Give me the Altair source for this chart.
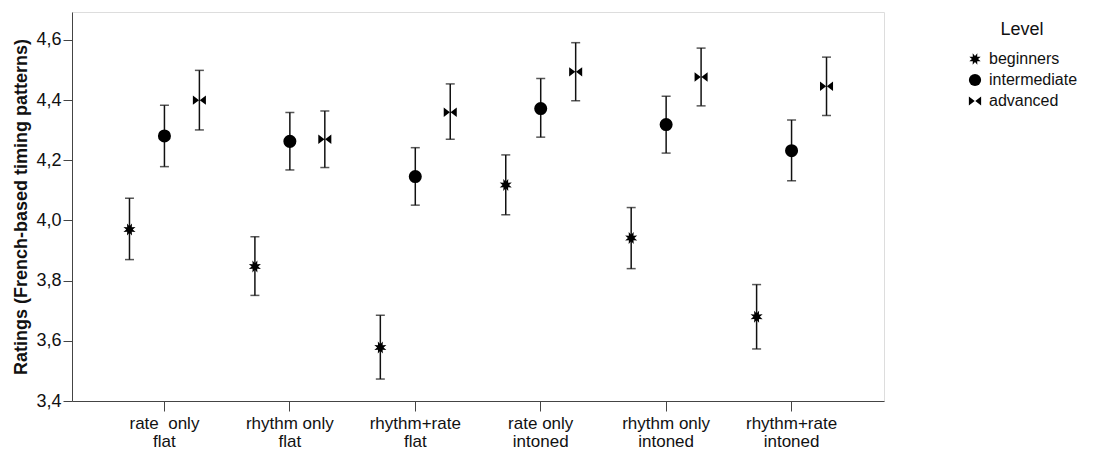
import math
import altair as alt
import pandas as pd

conditions = ["rate \u00a0only|flat", "rhythm only|flat", "rhythm+rate|flat",
              "rate only|intoned", "rhythm only|intoned", "rhythm+rate|intoned"]
levels = ["beginners", "intermediate", "advanced"]

mean_beginners = [3.970, 3.847, 3.578, 4.118, 3.942, 3.680]
mean_intermediate = [4.281, 4.263, 4.146, 4.372, 4.319, 4.232]
mean_advanced = [4.400, 4.270, 4.360, 4.494, 4.477, 4.446]

upper_beginners = [4.074, 3.946, 3.685, 4.218, 4.043, 3.787]
upper_intermediate = [4.383, 4.359, 4.242, 4.472, 4.413, 4.334]
upper_advanced = [4.499, 4.364, 4.454, 4.591, 4.573, 4.543]

lower_beginners = [3.870, 3.751, 3.473, 4.019, 3.840, 3.573]
lower_intermediate = [4.179, 4.168, 4.051, 4.277, 4.224, 4.132]
lower_advanced = [4.301, 4.176, 4.270, 4.398, 4.381, 4.349]

y_ticks = [3.4, 3.6, 3.8, 4.0, 4.2, 4.4, 4.6]

means = [mean_beginners, mean_intermediate, mean_advanced]
uppers = [upper_beginners, upper_intermediate, upper_advanced]
lowers = [lower_beginners, lower_intermediate, lower_advanced]

rows = []
for li, lev in enumerate(levels):
    for ci, cond in enumerate(conditions):
        rows.append({"Condition": cond, "Level": lev,
                     "mean": means[li][ci], "upper": uppers[li][ci], "lower": lowers[li][ci]})
df = pd.DataFrame(rows)

# marker shapes
pts = []
for k in range(16):
    r = 1.0 if k % 2 == 0 else 0.5
    a = math.pi * k / 8 + math.pi / 8
    pts.append(f"{r*math.cos(a):.3f},{r*math.sin(a):.3f}")
star = "M" + "L".join(pts) + "Z"
bowtie = "M-1,-0.72L-0.05,0L-1,0.72Z M1,-0.72L0.05,0L1,0.72Z"

FONT = "Liberation Sans"
INK = "#111111"
FRAME = "#444444"

x_enc = alt.X("Condition:N", sort=conditions, title=None,
              scale=alt.Scale(paddingInner=0, paddingOuter=0.237),
              axis=alt.Axis(labelExpr="split(datum.label, '|')", labelAngle=0,
                            labelFontSize=17, labelLineHeight=18, labelFont=FONT,
                            labelColor=INK, tickSize=10, tickColor=FRAME,
                            domainColor=FRAME, labelPadding=4, labelBaseline="top"))
xo_enc = alt.XOffset("Level:N", sort=levels,
                     scale=alt.Scale(paddingInner=0, paddingOuter=0.294))

y_scale = alt.Scale(domain=[3.4, 4.693], zero=False, nice=False)

base = alt.Chart(df).encode(x=x_enc, xOffset=xo_enc)

rule = base.mark_rule(color=INK, strokeWidth=1.5).encode(
    y=alt.Y("lower:Q", scale=y_scale,
            title="Ratings (French-based timing patterns)",
            axis=alt.Axis(values=y_ticks,
                          labelExpr="replace(format(datum.value, '.1f'), '.', ',')",
                          labelFontSize=18, labelFont=FONT, labelColor=INK,
                          tickSize=9, tickColor=FRAME, domainColor=FRAME,
                          labelPadding=2, grid=False,
                          titleFontSize=18, titleFont=FONT, titleFontWeight="bold",
                          titleColor=INK, titlePadding=5)),
    y2="upper:Q")

cap_hi = base.mark_tick(color=INK, thickness=1.5, size=9).encode(y=alt.Y("upper:Q", scale=y_scale))
cap_lo = base.mark_tick(color=INK, thickness=1.5, size=9).encode(y=alt.Y("lower:Q", scale=y_scale))

points = base.mark_point(filled=True, opacity=1, size=170, color="#000000").encode(
    y=alt.Y("mean:Q", scale=y_scale),
    shape=alt.Shape("Level:N", sort=levels,
                    scale=alt.Scale(domain=levels, range=[star, "circle", bowtie]),
                    legend=alt.Legend(title="Level", orient="none", legendX=895, legendY=9,
                                      titleFont=FONT, titleFontSize=18, titleFontWeight="normal",
                                      titleColor=INK, titleAnchor="middle", titleAlign="center",
                                      titlePadding=12,
                                      labelFont=FONT, labelFontSize=16, labelColor=INK,
                                      labelOffset=6, rowPadding=5, symbolSize=150,
                                      symbolFillColor="#000000", symbolStrokeColor="#000000",
                                      symbolStrokeWidth=0.5)))

chart = alt.layer(rule, cap_hi, cap_lo, points).properties(
    width=812, height=389,
    padding={"left": 64, "top": 4, "right": 200, "bottom": 56},
    autosize="none",
).configure_view(stroke=FRAME, strokeWidth=1).configure(background="white")

chart.save("out.html", embed_options={"renderer": "svg", "actions": False})
